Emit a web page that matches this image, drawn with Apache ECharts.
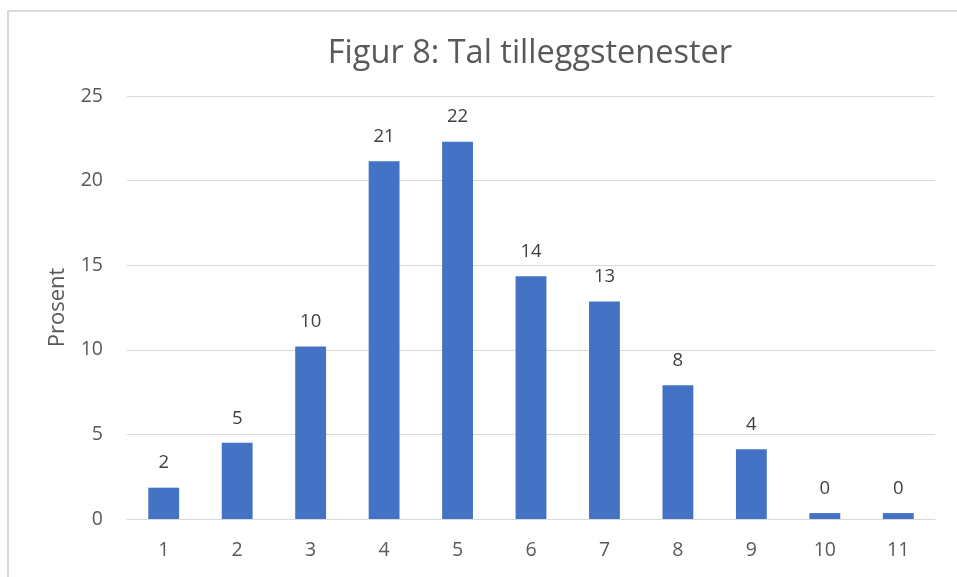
<!DOCTYPE html>
<html>
<head>
<meta charset="utf-8">
<script src="https://cdn.jsdelivr.net/npm/echarts@6/dist/echarts.min.js"></script>
<style>
  html, body { margin: 0; padding: 0; background: #fff; }
  #chart { width: 957px; height: 577px; }
</style>
</head>
<body>
<div id="chart"></div>
<script>
const categories = ["1", "2", "3", "4", "5", "6", "7", "8", "9", "10", "11"];
const prosent = [1.85, 4.5, 10.2, 21.15, 22.3, 14.35, 12.85, 7.9, 4.12, 0.35, 0.35];
const yTicks = [0, 5, 10, 15, 20, 25];

const font = "'Open Sans', 'Noto Sans', sans-serif";
const textColor = "#595959";

const chart = echarts.init(document.getElementById("chart"));
chart.setOption({
  animation: false,
  textStyle: { fontFamily: font },
  title: {
    text: "Figur 8: Tal tilleggstenester",
    left: 525,
    textAlign: "center",
    top: 32,
    textStyle: { fontFamily: font, fontSize: 32.5, fontWeight: "normal", color: textColor },
  },
  graphic: [
    {
      type: "rect",
      shape: { x: 8, y: 11, width: 960, height: 580 },
      style: { fill: "none", stroke: "#d9d9d9", lineWidth: 2 },
      silent: true,
    },
  ],
  grid: { left: 127, right: 22, top: 96, bottom: 58 },
  xAxis: {
    type: "category",
    data: categories,
    axisLine: { lineStyle: { color: "#d9d9d9", width: 1 } },
    axisTick: { show: false },
    axisLabel: { color: textColor, fontSize: 19.5, margin: 21 },
  },
  yAxis: {
    type: "value",
    min: yTicks[0],
    max: yTicks[yTicks.length - 1],
    interval: 5,
    name: "Prosent",
    nameLocation: "middle",
    nameGap: 58,
    nameTextStyle: { color: textColor, fontSize: 22 },
    axisLine: { show: false },
    axisTick: { show: false },
    axisLabel: { color: textColor, fontSize: 19.5, margin: 24 },
    splitLine: { lineStyle: { color: "#d9d9d9", width: 1 } },
  },
  series: [
    {
      type: "bar",
      data: prosent,
      barWidth: "42%",
      itemStyle: { color: "#4472C4" },
      label: {
        show: true,
        position: "top",
        distance: 15,
        color: "#404040",
        fontSize: 18.5,
        formatter: (p) => Math.round(p.value),
      },
    },
  ],
});
</script>
</body>
</html>
